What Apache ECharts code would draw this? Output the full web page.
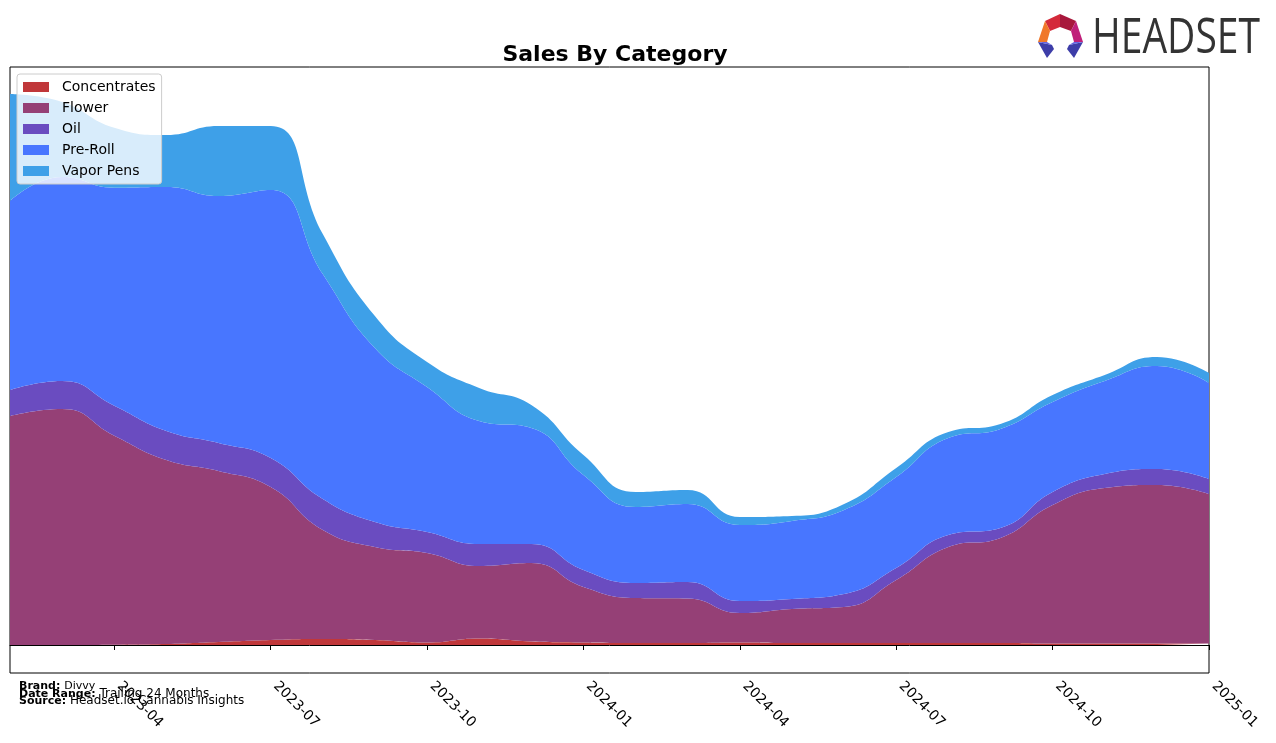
<!DOCTYPE html>
<html>
<head>
<meta charset="utf-8">
<script src="https://cdn.jsdelivr.net/npm/echarts@6.0.0/dist/echarts.min.js"></script>
<style>
  html, body { margin: 0; padding: 0; background: #fff; }
  #chart { width: 1276px; height: 743px; }
</style>
</head>
<body>
<div id="chart"></div>
<script>
// monthly points
const months = ['2023-02', '2023-03', '2023-04', '2023-05', '2023-06', '2023-07', '2023-08', '2023-09',
  '2023-10', '2023-11', '2023-12', '2024-01', '2024-02', '2024-03', '2024-04', '2024-05',
  '2024-06', '2024-07', '2024-08', '2024-09', '2024-10', '2024-11', '2024-12', '2025-01'];
const concentrates = [0, 0, 0.3, 1, 3, 5, 6, 5, 2.5, 6.5, 3.5, 2.5, 2, 2, 2.5, 2, 2, 2, 2, 2, 1.5, 1.5, 1.5, 1.5];
const flower = [229, 236, 209, 184, 171, 153, 109, 93, 89.5, 72.5, 78.5, 55.5, 45, 44.5, 29.5, 34, 36, 63, 96, 105, 138.5, 155.5, 158.5, 149.5];
const oil = [26, 28, 30, 29, 28, 29, 31, 25, 21, 22, 19, 17, 15, 16.5, 12, 10, 13, 12, 12, 10, 13, 14, 16, 15];
const preRoll = [189, 204, 218, 244, 247, 268, 225, 174, 145, 123, 116, 95, 76, 78, 76, 78, 84, 91, 97, 99, 90, 93, 103, 96];
const vaporPens = [107, 75, 60, 52, 70, 64, 40, 32, 25, 33, 23, 20, 15, 14, 8, 5, 6, 9, 6, 5, 7, 6, 9, 10];
const tickLabels = ['2023-04', '2023-07', '2023-10', '2024-01', '2024-04', '2024-07', '2024-10', '2025-01'];

const names = ['Concentrates', 'Flower', 'Oil', 'Pre-Roll', 'Vapor Pens'];
const colors = ['#C0373A', '#954076', '#6A4CC0', '#4876FF', '#3EA0E8'];
const values = [concentrates, flower, oil, preRoll, vaporPens];

const isTick = (idx, val) => tickLabels.indexOf(val) !== -1;

const chart = echarts.init(document.getElementById('chart'));

const series = names.map((name, i) => ({
  name: name,
  type: 'line',
  stack: 'total',
  smooth: 0.5,
  symbol: 'none',
  lineStyle: { width: 0 },
  itemStyle: { color: colors[i] },
  areaStyle: { color: colors[i], opacity: 1 },
  data: values[i]
}));

const footStyle = {
  b: { fontFamily: 'DejaVu Sans', fontWeight: 'bold', fontSize: 11, color: '#000' },
  g: { fontFamily: 'DejaVu Sans', fontSize: 12, color: '#8c8c8c' },
  s: { fontFamily: 'DejaVu Sans', fontSize: 11, color: '#8c8c8c' }
};

const option = {
  animation: false,
  backgroundColor: '#fff',
  title: {
    text: 'Sales By Category',
    left: 610,
    top: 39,
    textAlign: 'center',
    textStyle: { fontFamily: 'DejaVu Sans', fontWeight: 'bold', fontSize: 22, color: '#000' }
  },
  legend: {
    orient: 'vertical',
    left: 17,
    top: 74,
    padding: [6, 6, 6, 6],
    itemGap: 7,
    itemWidth: 26,
    itemHeight: 10,
    icon: 'rect',
    backgroundColor: 'rgba(255,255,255,0.8)',
    borderColor: '#ccc',
    borderWidth: 1,
    borderRadius: 3,
    textStyle: { fontFamily: 'DejaVu Sans', fontSize: 14, color: '#000', padding: [0, 0, 0, 8] },
    data: names
  },
  grid: {
    left: 10,
    right: 67,
    top: 67,
    bottom: 70,
    show: true,
    borderColor: '#000',
    borderWidth: 1,
    containLabel: false
  },
  xAxis: {
    type: 'category',
    data: months,
    boundaryGap: false,
    splitLine: { show: false },
    axisLine: { lineStyle: { color: '#000', width: 1 } },
    axisTick: { show: true, length: 5, interval: isTick, lineStyle: { color: '#000' } },
    axisLabel: {
      interval: isTick,
      rotate: -45,
      margin: 6,
      padding: [0, 0, 0, 7],
      fontFamily: 'DejaVu Sans',
      fontSize: 14,
      color: '#000'
    }
  },
  yAxis: {
    type: 'value',
    min: -28,
    max: 578,
    show: false,
    splitLine: { show: false }
  },
  series: series,
  graphic: [
    // headset logo
    { type: 'polygon', shape: { points: [[1045, 21], [1060, 14], [1060, 27], [1050, 31]] }, style: { fill: '#D42A3A' } },
    { type: 'polygon', shape: { points: [[1060, 14], [1076, 21], [1071, 31], [1060, 27]] }, style: { fill: '#A8183C' } },
    { type: 'polygon', shape: { points: [[1045, 21], [1050, 31], [1047, 42], [1038, 42]] }, style: { fill: '#F0782A' } },
    { type: 'polygon', shape: { points: [[1076, 21], [1083, 42], [1074, 42], [1071, 31]] }, style: { fill: '#C0207A' } },
    { type: 'polygon', shape: { points: [[1038, 42], [1052, 45], [1054, 49], [1047, 58]] }, style: { fill: '#3D3DA8' } },
    { type: 'polygon', shape: { points: [[1038, 42], [1047, 42], [1052, 45]] }, style: { fill: '#6464E0' } },
    { type: 'polygon', shape: { points: [[1083, 42], [1069, 45], [1067, 49], [1074, 58]] }, style: { fill: '#3D3DA8' } },
    { type: 'polygon', shape: { points: [[1083, 42], [1074, 42], [1069, 45]] }, style: { fill: '#6464E0' } },
    {
      type: 'text', x: 1092, y: 14, scaleX: 0.78,
      style: { text: 'HEADSET', fontFamily: 'Open Sans', fontSize: 50, fill: '#333' }
    },
    // footer
    {
      type: 'text', left: 19, top: 681,
      style: { text: '{b|Brand: }{s|Divvy}', rich: footStyle }
    },
    {
      type: 'text', left: 19, top: 688,
      style: { text: '{b|Date Range: }{g|Trailing 24 Months}', rich: footStyle }
    },
    {
      type: 'text', left: 19, top: 695,
      style: { text: '{b|Source: }{g|Headset.io Cannabis Insights}', rich: footStyle }
    }
  ]
};

chart.setOption(option);
</script>
</body>
</html>
